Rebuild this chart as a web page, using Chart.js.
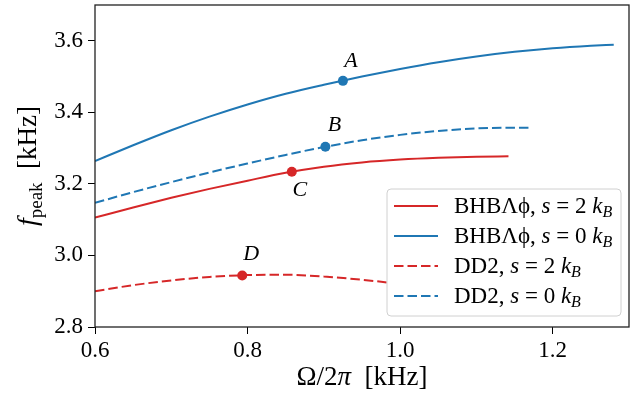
<!DOCTYPE html>
<html><head><meta charset="utf-8">
<script src="https://cdn.jsdelivr.net/npm/chart.js@4.4.0/dist/chart.umd.min.js"></script>
<style>html,body{margin:0;padding:0;background:#fff;}#wrap{width:634px;height:395px;}</style>
</head><body><div id="wrap"><canvas id="c" width="634" height="395"></canvas></div>
<script>
// ---- data ----
const xTicks = [0.6, 0.8, 1.0, 1.2];
const yTicks = [2.8, 3.0, 3.2, 3.4, 3.6];

const bhb2X = [0.6, 0.65, 0.7, 0.75, 0.8, 0.85, 0.9, 0.95, 1.0, 1.05, 1.1, 1.142];
const bhb2Y = [3.106, 3.134, 3.161, 3.186, 3.209, 3.231, 3.248, 3.260, 3.268, 3.273, 3.276, 3.277];

const bhb0X = [0.6, 0.65, 0.7, 0.75, 0.8, 0.85, 0.9, 0.95, 1.0, 1.05, 1.1, 1.15, 1.2, 1.25, 1.28];
const bhb0Y = [3.264, 3.308, 3.350, 3.388, 3.422, 3.452, 3.477, 3.500, 3.521, 3.540, 3.556, 3.569, 3.579, 3.586, 3.589];

const dd22X = [0.6, 0.65, 0.7, 0.75, 0.8, 0.85, 0.9, 0.95, 0.98, 1.0];
const dd22Y = [2.900, 2.917, 2.930, 2.940, 2.945, 2.946, 2.941, 2.932, 2.925, 2.918];

const dd20X = [0.6, 0.65, 0.7, 0.75, 0.8, 0.85, 0.9, 0.95, 1.0, 1.05, 1.1, 1.15, 1.172];
const dd20Y = [3.147, 3.177, 3.205, 3.232, 3.257, 3.281, 3.303, 3.322, 3.337, 3.348, 3.355, 3.357, 3.357];

const markNames = ['A', 'B', 'C', 'D'];
const markX = [0.925, 0.902, 0.858, 0.793];
const markY = [3.488, 3.304, 3.234, 2.944];

const legendNames = ['BHB\u039B\u03D5', 'BHB\u039B\u03D5', 'DD2', 'DD2'];
const legendS = ['2', '0', '2', '0'];

// ---- styles ----
const RED = '#d62728', BLUE = '#1f77b4';
const SERIF = '"Liberation Serif", "DejaVu Serif", serif';
const DASH = [9.5, 4];
const markColors = [BLUE, BLUE, RED, RED];
const markLabelOff = [[8, -20], [9, -21], [8, 18], [9, -21]];

const zip = (xs, ys) => xs.map((x, i) => ({x: x, y: ys[i]}));

const lineDs = (xs, ys, color, dash) => ({
  data: zip(xs, ys), showLine: true, borderColor: color, borderWidth: 2,
  borderDash: dash, pointRadius: 0, cubicInterpolationMode: 'monotone', fill: false
});

const datasets = [
  lineDs(bhb2X, bhb2Y, RED, []),
  lineDs(bhb0X, bhb0Y, BLUE, []),
  lineDs(dd22X, dd22Y, RED, DASH),
  lineDs(dd20X, dd20Y, BLUE, DASH),
  { data: zip(markX, markY), showLine: false, pointRadius: 5, pointBackgroundColor: markColors,
    pointBorderWidth: 0, pointBorderColor: markColors }
];

function drawRuns(ctx, runs, x, y, align) {
  let total = 0;
  runs.forEach(r => { ctx.font = r[1]; total += ctx.measureText(r[0]).width; });
  let cx = align === 'center' ? x - total / 2 : x;
  ctx.textAlign = 'left';
  ctx.textBaseline = 'alphabetic';
  runs.forEach(r => { ctx.font = r[1]; ctx.fillText(r[0], cx, y + (r[2] || 0)); cx += ctx.measureText(r[0]).width; });
}

const extras = {
  id: 'extras',
  afterDatasetsDraw(chart) {
    const ctx = chart.ctx, xs = chart.scales.x, ys = chart.scales.y;
    ctx.save();
    ctx.fillStyle = '#000';
    ctx.font = 'italic 22px ' + SERIF;
    ctx.textAlign = 'center';
    ctx.textBaseline = 'middle';
    markNames.forEach((n, i) => {
      const px = xs.getPixelForValue(markX[i]), py = ys.getPixelForValue(markY[i]);
      ctx.fillText(n, px + markLabelOff[i][0], py + markLabelOff[i][1]);
    });
    // legend
    const bx = 387, by = 189, bw = 234, bh = 127, r = 4;
    ctx.beginPath();
    ctx.moveTo(bx + r, by); ctx.lineTo(bx + bw - r, by); ctx.quadraticCurveTo(bx + bw, by, bx + bw, by + r);
    ctx.lineTo(bx + bw, by + bh - r); ctx.quadraticCurveTo(bx + bw, by + bh, bx + bw - r, by + bh);
    ctx.lineTo(bx + r, by + bh); ctx.quadraticCurveTo(bx, by + bh, bx, by + bh - r);
    ctx.lineTo(bx, by + r); ctx.quadraticCurveTo(bx, by, bx + r, by);
    ctx.closePath();
    ctx.fillStyle = '#fff'; ctx.fill();
    ctx.strokeStyle = '#d0d0d0'; ctx.lineWidth = 1; ctx.stroke();
    [0, 1, 2, 3].forEach((di, row) => {
      const ds = chart.data.datasets[di];
      const ly = 206 + row * 30;
      ctx.beginPath();
      ctx.setLineDash(ds.borderDash || []);
      ctx.strokeStyle = ds.borderColor; ctx.lineWidth = 2;
      ctx.moveTo(394, ly); ctx.lineTo(438, ly); ctx.stroke();
      ctx.setLineDash([]);
      ctx.fillStyle = '#000';
      const rm = '23px ' + SERIF, it = 'italic 23px ' + SERIF;
      drawRuns(ctx, [
        [legendNames[row] + ', ', rm], ['s', it], [' = ' + legendS[row] + ' ', rm],
        ['k', it], ['B', 'italic 16px ' + SERIF, 4]
      ], 454, ly + 7, 'left');
    });
    ctx.restore();
  },
  afterDraw(chart) {
    const ctx = chart.ctx, a = chart.chartArea;
    ctx.save();
    ctx.strokeStyle = '#222'; ctx.lineWidth = 1.3;
    ctx.strokeRect(a.left, a.top, a.right - a.left, a.bottom - a.top);
    ctx.fillStyle = '#000';
    drawRuns(ctx, [['\u03A9/2', '27px ' + SERIF], ['\u03C0', 'italic 27px ' + SERIF], ['  [kHz]', '27px ' + SERIF]],
      (a.left + a.right) / 2, 385, 'center');
    ctx.translate(36, (a.top + a.bottom) / 2);
    ctx.rotate(-Math.PI / 2);
    drawRuns(ctx, [['f', 'italic 28px ' + SERIF], ['peak', '19px ' + SERIF, 6], ['  [kHz]', '27px ' + SERIF]],
      0, 0, 'center');
    ctx.restore();
  }
};

new Chart(document.getElementById('c'), {
  type: 'scatter',
  data: { datasets: datasets },
  plugins: [extras],
  options: {
    responsive: false, animation: false, devicePixelRatio: 1,
    layout: { padding: { left: 0, right: 2, top: 3, bottom: 0 } },
    plugins: { legend: { display: false }, tooltip: { enabled: false } },
    scales: {
      x: {
        type: 'linear', min: 0.6, max: 1.3,
        afterBuildTicks: s => { s.ticks = xTicks.map(v => ({value: v})); },
        afterFit: s => { s.height = 68; s.paddingLeft = 0; s.paddingRight = 0; },
        ticks: { callback: v => v.toFixed(1), color: '#000', font: { family: SERIF, size: 23 }, padding: 3, maxRotation: 0 },
        grid: { drawOnChartArea: false, drawTicks: true, tickLength: 7, color: '#000', tickWidth: 1 },
        border: { display: false }
      },
      y: {
        type: 'linear', min: 2.8, max: 3.7,
        afterBuildTicks: s => { s.ticks = yTicks.map(v => ({value: v})); },
        afterFit: s => { s.width = 95; s.paddingTop = 0; s.paddingBottom = 0; },
        ticks: { callback: v => v.toFixed(1), color: '#000', font: { family: SERIF, size: 23 }, padding: 5 },
        grid: { drawOnChartArea: false, drawTicks: true, tickLength: 7, color: '#000', tickWidth: 1 },
        border: { display: false }
      }
    }
  }
});
</script></body></html>
